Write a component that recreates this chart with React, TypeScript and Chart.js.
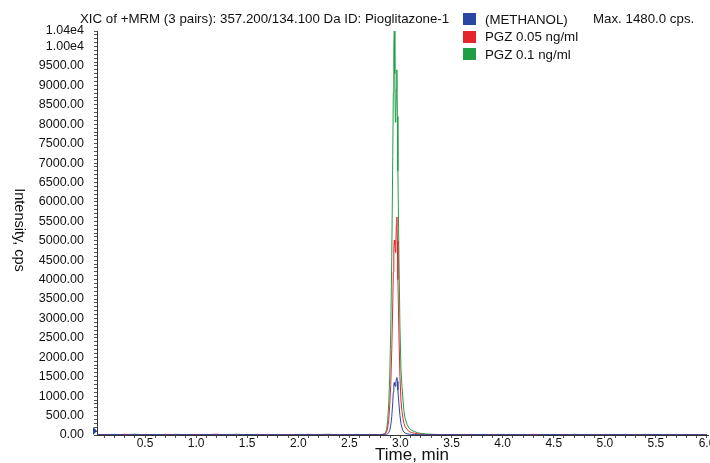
import React, { useEffect, useRef } from 'react';
import { Chart, registerables } from 'chart.js';

Chart.register(...registerables);

// ---- data ----
const times = [
  0.03, 0.1, 0.2, 0.3, 0.4, 0.5, 0.6, 0.7, 0.8, 0.9, 1.0, 1.1, 1.2, 1.3, 1.4, 1.5, 1.6, 1.7, 1.8, 1.9, 2.0, 2.1, 2.2, 2.3, 2.4, 2.5, 2.6, 2.7, 2.8,
  2.81, 2.83, 2.845, 2.855, 2.865, 2.875, 2.885, 2.895, 2.905, 2.915, 2.925, 2.93, 2.935, 2.94, 2.945, 2.95, 2.955, 2.96, 2.965, 2.97, 2.975, 2.985, 2.995, 3.005, 3.015, 3.025, 3.035, 3.045, 3.065, 3.085, 3.11, 3.14, 3.17, 3.21, 3.25,
  3.3, 3.4, 3.5, 3.6, 3.7, 3.8, 3.9, 4.0, 4.1, 4.2, 4.3, 4.4, 4.5, 4.6, 4.7, 4.8, 4.9, 5.0, 5.1, 5.2, 5.3, 5.4, 5.5, 5.6, 5.7, 5.8, 5.9, 6.0,
];

const methanol = [
  8, 5, 12, 3, 9, 6, 14, 4, 7, 10, 2, 11, 6, 9, 4, 13, 7, 5, 10, 3, 8, 12, 6, 4, 9, 7, 11, 5, 6,
  5, 8, 10, 12, 18, 30, 60, 120, 250, 480, 850, 1100, 1300, 1350, 1280, 1250, 1330, 1440, 1480, 1380, 1150, 800, 500, 300, 180, 110, 70, 50, 30, 20, 15, 12, 10, 8, 6,
  9, 6, 11, 4, 8, 13, 5, 10, 7, 12, 3, 9, 14, 6, 8, 11, 5, 10, 7, 13, 4, 9, 12, 6, 8, 10, 5, 7,
];

const pgz005 = [
  6, 14, 4, 18, 7, 11, 5, 16, 9, 3, 13, 8, 20, 6, 10, 4, 15, 9, 7, 12, 5, 17, 8, 11, 6, 14, 9, 12, 10,
  10, 15, 25, 40, 80, 180, 380, 750, 1300, 2200, 3400, 4200, 4800, 5020, 4900, 4700, 4900, 5400, 5610, 5000, 4000, 2600, 1500, 900, 600, 420, 300, 220, 140, 90, 60, 45, 30, 20, 15,
  14, 8, 12, 6, 15, 9, 11, 4, 13, 7, 16, 10, 5, 12, 8, 14, 6, 11, 9, 15, 7, 12, 10, 5, 13, 8, 11, 9,
];

const pgz01 = [
  10, 7, 16, 9, 20, 5, 12, 8, 17, 11, 6, 15, 9, 13, 18, 7, 11, 5, 14, 9, 16, 8, 12, 19, 7, 13, 10, 15, 12,
  15, 20, 40, 70, 150, 380, 800, 1500, 2700, 4600, 7200, 8800, 10000, 10400, 9300, 8050, 8200, 8900, 9400, 8200, 6800, 4600, 2800, 1700, 1250, 900, 600, 430, 270, 170, 120, 85, 55, 38, 25,
  18, 12, 9, 15, 7, 13, 10, 16, 6, 12, 9, 14, 11, 8, 17, 10, 13, 7, 15, 9, 12, 16, 8, 11, 14, 9, 12, 10,
];

const seriesLabels = ['(METHANOL)', 'PGZ 0.05 ng/ml', 'PGZ 0.1 ng/ml'];
const seriesColors = ['#2a46a3', '#e4252b', '#1f9f45'];
const titleText = 'XIC of +MRM (3 pairs): 357.200/134.100 Da ID: Pioglitazone-1';
const maxText = 'Max. 1480.0 cps.';
const xTitle = 'Time, min';
const yTitle = 'Intensity, cps';
const xMin = 0.03;
const xMax = 6.01;
const yMin = 0;
const yMax = 10400;

const FONT = '"Liberation Sans", Arial, sans-serif';

const textPlugin = {
  id: 'customText',
  afterDraw(chart: any) {
    const ctx = chart.ctx as CanvasRenderingContext2D;
    ctx.save();
    ctx.fillStyle = '#111';
    ctx.textBaseline = 'alphabetic';
    ctx.textAlign = 'left';
    ctx.font = `13.3px ${FONT}`;
    ctx.fillText(titleText, 80, 23);
    ctx.fillText(maxText, 593, 23);
    // legend
    seriesLabels.forEach((lab, i) => {
      const cy = 19 + i * 17.7;
      ctx.fillStyle = seriesColors[i];
      ctx.fillRect(463, Math.round(cy - 6), 13, 12);
      ctx.fillStyle = '#111';
      ctx.fillText(lab, 485, cy + 4.5);
    });
    // x title
    ctx.font = `17px ${FONT}`;
    ctx.fillText(xTitle, 375, 460);
    // y title (rotated clockwise)
    ctx.save();
    ctx.translate(19, 230);
    ctx.rotate(Math.PI / 2);
    ctx.font = `14.5px ${FONT}`;
    ctx.textAlign = 'center';
    ctx.textBaseline = 'middle';
    ctx.fillText(yTitle, 0, 0);
    ctx.restore();
    // blue start marker
    const a = chart.chartArea;
    ctx.fillStyle = '#1f3f9a';
    ctx.beginPath();
    ctx.moveTo(a.left - 4, a.bottom - 8);
    ctx.lineTo(a.left, a.bottom - 4);
    ctx.lineTo(a.left - 4, a.bottom);
    ctx.closePath();
    ctx.fill();
    ctx.restore();
  },
};

export default function App() {
  const ref = useRef<HTMLCanvasElement | null>(null);
  useEffect(() => {
    const canvas = ref.current;
    if (!canvas) return;
    const mk = (vals: number[]) => times.map((t, i) => ({ x: t, y: vals[i] }));
    const chart = new Chart(canvas, {
      type: 'line',
      data: {
        datasets: [
          { label: seriesLabels[0], data: mk(methanol), borderColor: seriesColors[0], borderWidth: 1, pointRadius: 0, tension: 0 },
          { label: seriesLabels[1], data: mk(pgz005), borderColor: seriesColors[1], borderWidth: 1, pointRadius: 0, tension: 0 },
          { label: seriesLabels[2], data: mk(pgz01), borderColor: seriesColors[2], borderWidth: 1, pointRadius: 0, tension: 0 },
        ],
      },
      options: {
        responsive: false,
        maintainAspectRatio: false,
        devicePixelRatio: 1,
        animation: false,
        layout: { padding: { left: 0, top: 31, right: 2, bottom: 0 } },
        plugins: { legend: { display: false }, title: { display: false }, tooltip: { enabled: false } },
        scales: {
          x: {
            type: 'linear',
            min: xMin,
            max: xMax,
            afterBuildTicks: (s: any) => {
              const arr = [];
              for (let k = 1; k <= 60; k++) arr.push({ value: k / 10 });
              s.ticks = arr;
            },
            afterFit: (s: any) => {
              s.height = 28;
              s.paddingLeft = 0;
              s.paddingRight = 0;
            },
            ticks: {
              autoSkip: false,
              maxRotation: 0,
              minRotation: 0,
              padding: -2,
              color: '#111',
              font: { family: FONT, size: 12 },
              callback: (v: any) => {
                const n = Number(v);
                return Math.abs(n * 2 - Math.round(n * 2)) < 1e-6 ? n.toFixed(1) : '';
              },
            },
            grid: { display: true, drawOnChartArea: false, drawTicks: true, tickLength: 3, color: '#555' },
            border: { display: true, color: '#333', width: 1 },
          },
          y: {
            type: 'linear',
            min: yMin,
            max: yMax,
            afterBuildTicks: (s: any) => {
              const arr = [];
              for (let k = 0; k <= 104; k++) arr.push({ value: k * 100 });
              s.ticks = arr;
            },
            afterFit: (s: any) => {
              s.width = 97;
              s.paddingTop = 0;
              s.paddingBottom = 0;
            },
            ticks: {
              autoSkip: false,
              padding: 10,
              color: '#111',
              font: { family: FONT, size: 12.5 },
              callback: (v: any) => {
                const n = Number(v);
                if (n === 10400) return '1.04e4';
                if (n === 10000) return '1.00e4';
                if (n % 500 === 0 && n < 10000) return n.toFixed(2);
                return '';
              },
            },
            grid: { display: true, drawOnChartArea: false, drawTicks: true, tickLength: 3, color: '#555' },
            border: { display: true, color: '#333', width: 1 },
          },
        },
      },
      plugins: [textPlugin],
    });
    return () => chart.destroy();
  }, []);
  return (
    <div style={{ position: 'fixed', left: 0, top: 0, width: 710, height: 463, background: '#fff' }}>
      <canvas ref={ref} width={710} height={463} style={{ display: 'block', width: 710, height: 463 }} />
    </div>
  );
}
